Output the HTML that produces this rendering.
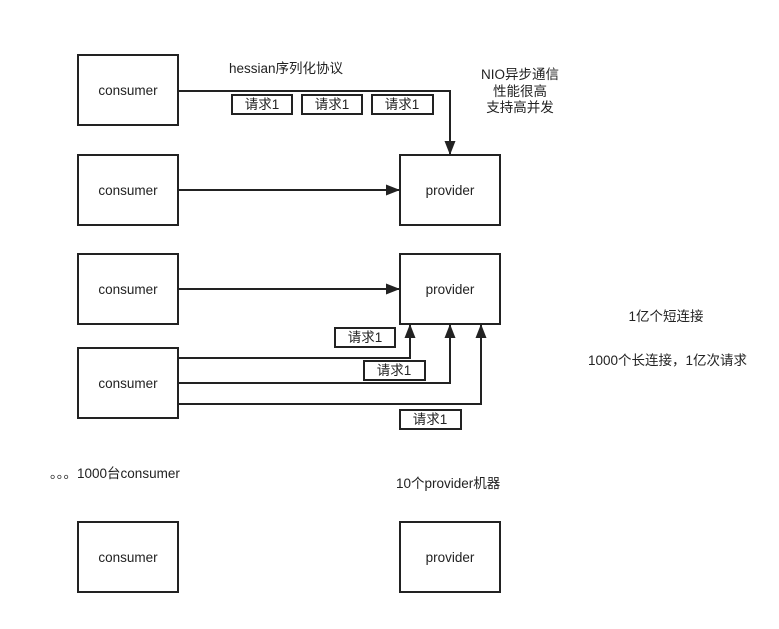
<!DOCTYPE html>
<html><head><meta charset="utf-8"><style>
body{margin:0;background:#fff;}
svg text{font-family:"Liberation Sans","Noto Sans CJK SC",sans-serif;font-size:13.5px;fill:#222;}
</style></head><body>
<svg width="779" height="624" viewBox="0 0 779 624" xmlns="http://www.w3.org/2000/svg">
<defs><marker id="a" markerWidth="14" markerHeight="11" refX="13" refY="5.5" orient="auto" markerUnits="userSpaceOnUse"><path d="M0,0 L14,5.5 L0,11 z" fill="#222"/></marker></defs>
<g fill="#fff" stroke="#222" stroke-width="2">
<rect x="78" y="55" width="100" height="70"/>
<rect x="78" y="155" width="100" height="70"/>
<rect x="78" y="254" width="100" height="70"/>
<rect x="78" y="348" width="100" height="70"/>
<rect x="78" y="522" width="100" height="70"/>
<rect x="400" y="155" width="100" height="70"/>
<rect x="400" y="254" width="100" height="70"/>
<rect x="400" y="522" width="100" height="70"/>
</g>
<g fill="none" stroke="#222" stroke-width="2">
<path d="M178,91 H450 V154" marker-end="url(#a)"/>
<path d="M178,190 H399" marker-end="url(#a)"/>
<path d="M178,289 H399" marker-end="url(#a)"/>
<path d="M178,358 H410 V325" marker-end="url(#a)"/>
<path d="M178,383 H450 V325" marker-end="url(#a)"/>
<path d="M178,404 H481 V325" marker-end="url(#a)"/>
</g>
<g fill="#fff" stroke="#222" stroke-width="2">
<rect x="232" y="95" width="60" height="19"/>
<rect x="302" y="95" width="60" height="19"/>
<rect x="372" y="95" width="61" height="19"/>
<rect x="335" y="328" width="60" height="19"/>
<rect x="364" y="361" width="61" height="19"/>
<rect x="400" y="410" width="61" height="19"/>
</g>
<g text-anchor="middle">
<text x="128" y="95">consumer</text>
<text x="128" y="195">consumer</text>
<text x="128" y="294">consumer</text>
<text x="128" y="388">consumer</text>
<text x="128" y="562">consumer</text>
<text x="450" y="195">provider</text>
<text x="450" y="294">provider</text>
<text x="450" y="562">provider</text>
<text x="262" y="109">请求1</text>
<text x="332" y="109">请求1</text>
<text x="402" y="109">请求1</text>
<text x="365" y="342">请求1</text>
<text x="394" y="375">请求1</text>
<text x="430" y="424">请求1</text>
<text x="520" y="79">NIO异步通信</text>
<text x="520" y="96">性能很高</text>
<text x="520" y="112">支持高并发</text>
<text x="666" y="321">1亿个短连接</text>
</g>
<text x="229" y="73">hessian序列化协议</text>
<text x="588" y="365">1000个长连接，1亿次请求</text>
<text x="50" y="478" style='font-family:"Noto Sans CJK SC",sans-serif'>。。。<tspan style='font-family:"Liberation Sans",sans-serif'>1000</tspan>台<tspan style='font-family:"Liberation Sans",sans-serif'>consumer</tspan></text>
<text x="396" y="488">10个provider机器</text>
</svg>
</body></html>
